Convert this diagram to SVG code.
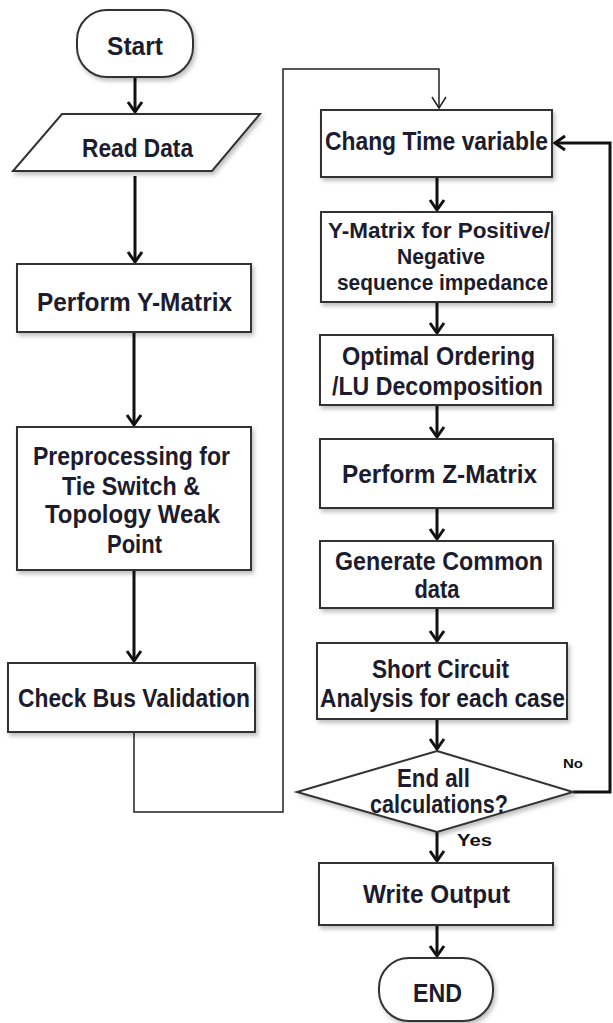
<svg xmlns="http://www.w3.org/2000/svg" width="613" height="1023" viewBox="0 0 613 1023">
<defs>
<filter id="sh" x="-10%" y="-10%" width="125%" height="130%">
<feDropShadow dx="2" dy="3" stdDeviation="2" flood-color="#000" flood-opacity="0.25"/>
</filter>
<marker id="ah" viewBox="-12 -8 14 16" refX="0" refY="0" markerWidth="14" markerHeight="16" markerUnits="userSpaceOnUse" orient="auto" overflow="visible">
<path d="M -10 -7 L 0 0 L -10 7" fill="none" stroke="#111" stroke-width="3" stroke-linejoin="miter"/>
</marker>
<marker id="ahThin" viewBox="-12 -8 14 16" refX="0" refY="0" markerWidth="14" markerHeight="16" markerUnits="userSpaceOnUse" orient="auto" overflow="visible">
<path d="M -11 -7 L 0 0 L -11 7" fill="none" stroke="#222" stroke-width="1.5"/>
</marker>
</defs>
<style>
.box{fill:#fff;stroke:#333;stroke-width:2;filter:url(#sh)}
.t{font-family:"Liberation Sans",Arial,sans-serif;font-weight:bold;font-size:25px;fill:#1c1c2e;text-anchor:middle}
.s{font-size:22px}
.lbl{font-family:"Liberation Sans",Arial,sans-serif;font-weight:bold;fill:#111;text-anchor:start}
.c{fill:none;stroke:#111;stroke-width:3}
.thin{fill:none;stroke:#222;stroke-width:1.5}
</style>
<rect width="613" height="1023" fill="#fff"/>

<g id="connectors">
<line class="c" x1="135" y1="77" x2="135" y2="112" marker-end="url(#ah)"/>
<line class="c" x1="135" y1="176" x2="135" y2="262" marker-end="url(#ah)"/>
<line class="c" x1="134" y1="332" x2="134" y2="425" marker-end="url(#ah)"/>
<line class="c" x1="134" y1="570" x2="134" y2="661" marker-end="url(#ah)"/>
<polyline class="thin" points="134,732 134,812 283,812 283,69 439,69 439,108" marker-end="url(#ahThin)"/>
<line class="c" x1="437" y1="177" x2="437" y2="210" marker-end="url(#ah)"/>
<line class="c" x1="437" y1="302" x2="437" y2="333" marker-end="url(#ah)"/>
<line class="c" x1="437" y1="405" x2="437" y2="437" marker-end="url(#ah)"/>
<line class="c" x1="437" y1="508" x2="437" y2="539" marker-end="url(#ah)"/>
<line class="c" x1="437" y1="608" x2="437" y2="641" marker-end="url(#ah)"/>
<line class="c" x1="437" y1="719" x2="437" y2="749" marker-end="url(#ah)"/>
<line class="c" x1="437" y1="832" x2="437" y2="861" marker-end="url(#ah)"/>
<line class="c" x1="437" y1="925" x2="437" y2="956" marker-end="url(#ah)"/>
<polyline class="c" points="573,792 610,792 610,143 555,143" marker-end="url(#ah)"/>
<text class="lbl" x="563" y="768" font-size="13" textLength="20" lengthAdjust="spacingAndGlyphs">No</text>
<text class="lbl" x="457" y="846" font-size="17" textLength="35" lengthAdjust="spacingAndGlyphs">Yes</text>
</g>

<g id="start">
<rect class="box" x="77" y="10" width="116" height="67" rx="30"/>
<text class="t" x="135" y="55" textLength="56" lengthAdjust="spacingAndGlyphs">Start</text>
</g>
<g id="read-data">
<polygon class="box" points="62,114 260,114 212,171 13,171"/>
<text class="t" x="137.5" y="157" textLength="111" lengthAdjust="spacingAndGlyphs">Read Data</text>
</g>
<g id="perform-y">
<rect class="box" x="17" y="264" width="234" height="68"/>
<text class="t" x="134.5" y="311" textLength="195" lengthAdjust="spacingAndGlyphs">Perform Y-Matrix</text>
</g>
<g id="preprocessing">
<rect class="box" x="17" y="427" width="234" height="143"/>
<text class="t" x="131.5" y="465" textLength="197" lengthAdjust="spacingAndGlyphs">Preprocessing for</text>
<text class="t" x="131" y="495" textLength="138" lengthAdjust="spacingAndGlyphs">Tie Switch &amp;</text>
<text class="t" x="132.5" y="523" textLength="175" lengthAdjust="spacingAndGlyphs">Topology Weak</text>
<text class="t" x="134.5" y="553" textLength="55" lengthAdjust="spacingAndGlyphs">Point</text>
</g>
<g id="check-bus">
<rect class="box" x="8" y="663" width="247" height="69"/>
<text class="t" x="134" y="707" textLength="232" lengthAdjust="spacingAndGlyphs">Check Bus Validation</text>
</g>
<g id="chang-time">
<rect class="box" x="321" y="110" width="231" height="67"/>
<text class="t" x="436.5" y="150" textLength="223" lengthAdjust="spacingAndGlyphs">Chang Time variable</text>
</g>
<g id="y-matrix-seq">
<rect class="box" x="321" y="212" width="231" height="90"/>
<text class="t s" x="439" y="238" textLength="222" lengthAdjust="spacingAndGlyphs">Y-Matrix for Positive/</text>
<text class="t s" x="441" y="264" textLength="88" lengthAdjust="spacingAndGlyphs">Negative</text>
<text class="t s" x="442.5" y="290" textLength="211" lengthAdjust="spacingAndGlyphs">sequence impedance</text>
</g>
<g id="optimal-ordering">
<rect class="box" x="320" y="335" width="233" height="70"/>
<text class="t" x="438.5" y="365" textLength="193" lengthAdjust="spacingAndGlyphs">Optimal Ordering</text>
<text class="t" x="437.5" y="395" textLength="211" lengthAdjust="spacingAndGlyphs">/LU Decomposition</text>
</g>
<g id="perform-z">
<rect class="box" x="320" y="439" width="233" height="69"/>
<text class="t" x="439.5" y="483" textLength="195" lengthAdjust="spacingAndGlyphs">Perform Z-Matrix</text>
</g>
<g id="generate-common">
<rect class="box" x="320" y="541" width="233" height="67"/>
<text class="t" x="439" y="570" textLength="208" lengthAdjust="spacingAndGlyphs">Generate Common</text>
<text class="t" x="437" y="598" textLength="45" lengthAdjust="spacingAndGlyphs">data</text>
</g>
<g id="short-circuit">
<rect class="box" x="317" y="643" width="250" height="76"/>
<text class="t" x="440.5" y="678" textLength="137" lengthAdjust="spacingAndGlyphs">Short Circuit</text>
<text class="t" x="442.5" y="707" textLength="245" lengthAdjust="spacingAndGlyphs">Analysis for each case</text>
</g>
<g id="end-all">
<polygon class="box" points="437,751 573,792 437,832 297,792"/>
<text class="t" x="433.5" y="787" textLength="73" lengthAdjust="spacingAndGlyphs">End all</text>
<text class="t" x="439" y="813" textLength="138" lengthAdjust="spacingAndGlyphs">calculations?</text>
</g>
<g id="write-output">
<rect class="box" x="319" y="863" width="234" height="62"/>
<text class="t" x="436.5" y="903" textLength="147" lengthAdjust="spacingAndGlyphs">Write Output</text>
</g>
<g id="end">
<rect class="box" x="379" y="958" width="114" height="63" rx="30"/>
<text class="t" x="437.5" y="1002" textLength="49" lengthAdjust="spacingAndGlyphs">END</text>
</g>
</svg>
